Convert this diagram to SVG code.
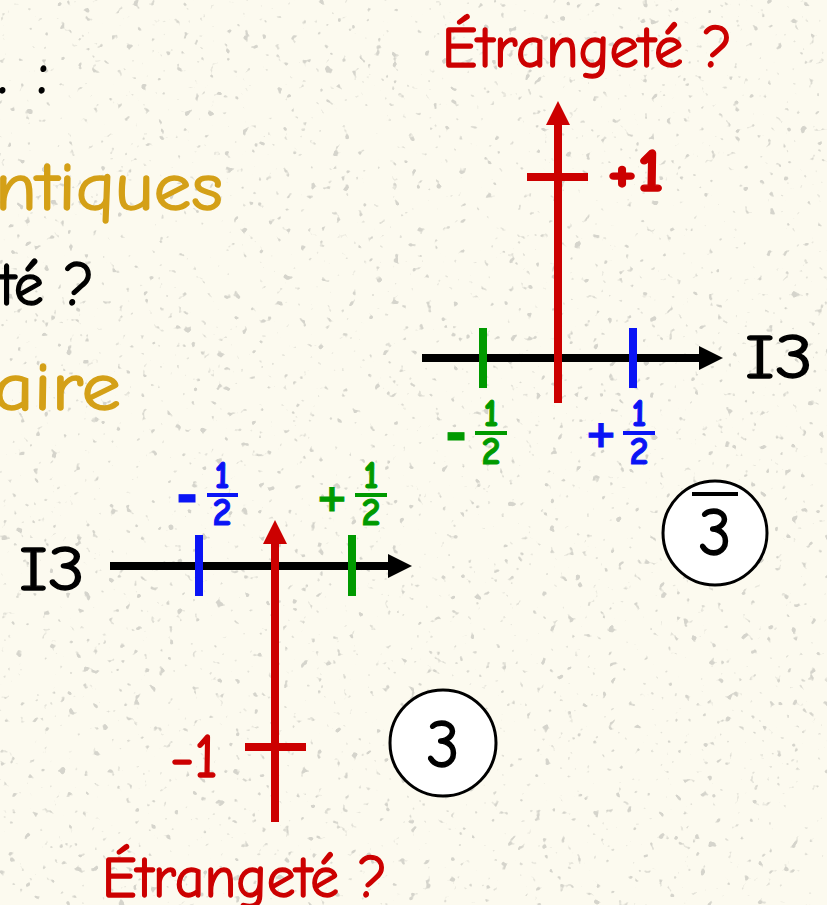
<svg xmlns="http://www.w3.org/2000/svg" width="827" height="905" viewBox="0 0 827 905">
  <defs>
    <style>
      .f { font-family: "Comic Sans MS", "Comic Neue", "DejaVu Sans", sans-serif; }
      .s { font-family: "DejaVu Sans", sans-serif; font-weight: bold; }
      .b { font-weight: bold; }
      .red { fill: #CC0000; stroke: #CC0000; stroke-width: 1.4; }
      .blk { fill: #000; stroke: #000; stroke-width: 1.4; }
      .gold { fill: #D4A017; stroke: #D4A017; stroke-width: 1.4; }
      .grn { fill: #009A00; stroke: #009A00; stroke-width: 1; }
      .blu { fill: #0A14F5; stroke: #0A14F5; stroke-width: 1; }
      .axis { stroke: #000; stroke-width: 8; fill: none; }
      .raxis { stroke: #CC0000; stroke-width: 8; fill: none; }
      .tick-r { stroke: #CC0000; stroke-width: 8; }
      .tick-g { stroke: #009A00; stroke-width: 8; }
      .tick-b { stroke: #0A14F5; stroke-width: 8; }
      .bar-g { stroke: #009A00; stroke-width: 4; }
      .bar-b { stroke: #0A14F5; stroke-width: 4; }
      .circ { fill: #FFFFFF; stroke: #000; stroke-width: 3; }
    </style>
    <marker id="arrK" markerUnits="userSpaceOnUse" markerWidth="24" markerHeight="24" viewBox="0 0 24 24" refX="1" refY="12" orient="auto">
      <path d="M0,0 L24,12 L0,24 z" fill="#000"/>
    </marker>
    <marker id="arrR" markerUnits="userSpaceOnUse" markerWidth="24" markerHeight="24" viewBox="0 0 24 24" refX="1" refY="12" orient="auto">
      <path d="M0,0 L24,12 L0,24 z" fill="#CC0000"/>
    </marker>
    <filter id="speck" x="0" y="0" width="100%" height="100%">
      <feTurbulence type="fractalNoise" baseFrequency="0.12" numOctaves="2" seed="7" result="n"/>
      <feColorMatrix in="n" type="matrix" values="0 0 0 0 0.5  0 0 0 0 0.5  0 0 0 0 0.46  12 0 0 0 -8.2"/>
    </filter>
  </defs>

  <g id="background">
    <rect x="0" y="0" width="827" height="905" fill="#FCFAEF"/>
    <rect x="0" y="0" width="827" height="905" filter="url(#speck)" opacity="0.6"/>
  </g>

  <g id="left-text">
    <text class="f blk" x="48" y="93" font-size="60" text-anchor="end" textLength="50" lengthAdjust="spacing">. :</text>
    <text class="f gold" x="223" y="210" font-size="68" text-anchor="end" textLength="228" lengthAdjust="spacingAndGlyphs">ntiques</text>
    <text class="f blk" x="94" y="305" font-size="60" text-anchor="end">té ?</text>
    <text class="f gold" x="121" y="410" font-size="68" text-anchor="end" textLength="128" lengthAdjust="spacingAndGlyphs">aire</text>
  </g>

  <g id="connectors">
    <line class="axis" x1="422" y1="358" x2="700" y2="358" marker-end="url(#arrK)"/>
    <line class="raxis" x1="558" y1="403" x2="558" y2="124" marker-end="url(#arrR)"/>
    <line class="axis" x1="110" y1="566" x2="389" y2="566" marker-end="url(#arrK)"/>
    <line class="raxis" x1="275" y1="822" x2="275" y2="543" marker-end="url(#arrR)"/>
  </g>

  <g id="top-diagram">
    <text class="f red" x="442" y="67" font-size="58" textLength="290" lengthAdjust="spacingAndGlyphs">Étrangeté ?</text>
    <line class="tick-r" x1="527" y1="177" x2="588" y2="177"/>
    <text class="f b red" x="607" y="191" font-size="60" textLength="57" lengthAdjust="spacingAndGlyphs">+1</text>
    <line class="tick-g" x1="483" y1="328" x2="483" y2="388"/>
    <line class="tick-b" x1="633" y1="328" x2="633" y2="388"/>
    <text class="f blk" x="745" y="378" font-size="62" textLength="68" lengthAdjust="spacingAndGlyphs">I3</text>
    <g id="frac-top-green">
      <text class="s grn" x="456" y="451" font-size="52" text-anchor="middle">-</text>
      <text class="f b grn" x="491" y="426" font-size="38" text-anchor="middle">1</text>
      <line class="bar-g" x1="475" y1="433" x2="507" y2="433"/>
      <text class="f b grn" x="491" y="464" font-size="38" text-anchor="middle">2</text>
    </g>
    <g id="frac-top-blue">
      <text class="s blu" x="601" y="447" font-size="38" text-anchor="middle">+</text>
      <text class="f b blu" x="639" y="426" font-size="38" text-anchor="middle">1</text>
      <line class="bar-b" x1="623" y1="433" x2="655" y2="433"/>
      <text class="f b blu" x="639" y="464" font-size="38" text-anchor="middle">2</text>
    </g>
  </g>

  <g id="node-3bar">
    <circle class="circ" cx="715" cy="533" r="52"/>
    <line x1="692" y1="494" x2="738" y2="494" stroke="#000" stroke-width="4"/>
    <text class="f blk" x="715" y="555" font-size="66" text-anchor="middle">3</text>
  </g>

  <g id="bottom-diagram">
    <text class="f blk" x="19" y="590" font-size="62" textLength="66" lengthAdjust="spacingAndGlyphs">I3</text>
    <line class="tick-b" x1="199" y1="535" x2="199" y2="596"/>
    <line class="tick-g" x1="352" y1="535" x2="352" y2="596"/>
    <line class="tick-r" x1="245" y1="747" x2="306" y2="747"/>
    <text class="f red" x="170" y="777" font-size="62" textLength="48" lengthAdjust="spacingAndGlyphs">-1</text>
    <text class="f red" x="102" y="897" font-size="58" textLength="285" lengthAdjust="spacingAndGlyphs">Étrangeté ?</text>
    <g id="frac-bot-blue">
      <text class="s blu" x="187" y="513" font-size="52" text-anchor="middle">-</text>
      <text class="f b blu" x="222" y="488" font-size="38" text-anchor="middle">1</text>
      <line class="bar-b" x1="207" y1="495" x2="238" y2="495"/>
      <text class="f b blu" x="222" y="525" font-size="38" text-anchor="middle">2</text>
    </g>
    <g id="frac-bot-green">
      <text class="s grn" x="332" y="511" font-size="38" text-anchor="middle">+</text>
      <text class="f b grn" x="371" y="488" font-size="38" text-anchor="middle">1</text>
      <line class="bar-g" x1="355" y1="495" x2="387" y2="495"/>
      <text class="f b grn" x="371" y="525" font-size="38" text-anchor="middle">2</text>
    </g>
  </g>

  <g id="node-3">
    <circle class="circ" cx="443" cy="743" r="53"/>
    <text class="f blk" x="443" y="767" font-size="66" text-anchor="middle">3</text>
  </g>
</svg>
